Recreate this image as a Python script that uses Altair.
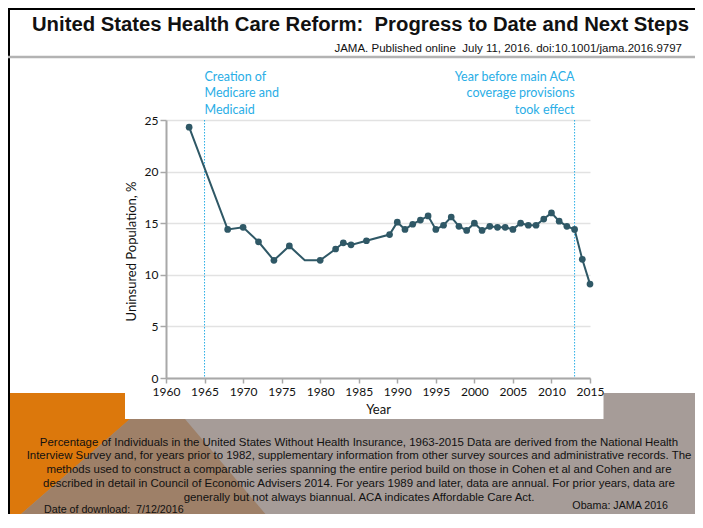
import altair as alt
import pandas as pd

# ---------------- data ----------------
years = [1963, 1968, 1970, 1972, 1974, 1976, 1978, 1980, 1982, 1983, 1984, 1986,
         1989, 1990, 1991, 1992, 1993, 1994, 1995, 1996, 1997, 1998, 1999, 2000,
         2001, 2002, 2003, 2004, 2005, 2006, 2007, 2008, 2009, 2010, 2011, 2012,
         2013, 2014, 2015]
uninsured = [24.3, 14.4, 14.6, 13.2, 11.4, 12.8, 11.4, 11.4, 12.5, 13.1, 12.9, 13.3,
             13.9, 15.1, 14.4, 14.9, 15.3, 15.7, 14.4, 14.8, 15.6, 14.7, 14.3, 15.0,
             14.3, 14.7, 14.6, 14.6, 14.4, 15.0, 14.8, 14.8, 15.4, 16.0, 15.2, 14.7,
             14.4, 11.5, 9.1]
no_marker_years = [1978]

event_years = [1965, 2013]
event_left_text = ["Creation of", "Medicare and", "Medicaid"]
event_right_text = ["Year before main ACA", "coverage provisions", "took effect"]

x_ticks = [1960, 1965, 1970, 1975, 1980, 1985, 1990, 1995, 2000, 2005, 2010, 2015]
y_ticks = [0, 5, 10, 15, 20, 25]

title_text = "United States Health Care Reform:\u00a0 Progress to Date and Next Steps"
subtitle_text = "JAMA. Published online\u00a0 July 11, 2016. doi:10.1001/jama.2016.9797"
caption_lines = [
    "Percentage of Individuals in the United States Without Health Insurance, 1963-2015 Data are derived from the National Health",
    "Interview Survey and, for years prior to 1982, supplementary information from other survey sources and administrative records. The",
    "methods used to construct a comparable series spanning the entire period build on those in Cohen et al and Cohen and are",
    "described in detail in Council of Economic Advisers 2014. For years 1989 and later, data are annual. For prior years, data are",
    "generally but not always biannual. ACA indicates Affordable Care Act.",
]
date_text = "Date of download:\u00a0 7/12/2016"
credit_text = "Obama: JAMA 2016"

# ---------------- styles ----------------
LINE = "#2f5866"
BLUE = "#2aaee6"
CHART_FONT = "Lato"
SLIDE_FONT = "Liberation Sans"

df = pd.DataFrame({"year": years, "value": uninsured,
                   "marker": [y not in no_marker_years for y in years]})
ev = pd.DataFrame({"year": event_years})
ev_left = pd.DataFrame({"year": [event_years[0]]})
ev_right = pd.DataFrame({"year": [event_years[1]]})
one = pd.DataFrame({"k": [0]})

xenc = alt.X("year:Q",
             scale=alt.Scale(domain=[1960, 2015], nice=False, zero=False),
             axis=alt.Axis(values=x_ticks, format="d", grid=False, title="Year",
                           labelFont=CHART_FONT, labelFontSize=12, labelColor="#111",
                           titleFont=CHART_FONT, titleFontSize=13, titleFontWeight="normal",
                           titleColor="#111", titleY=35, titleBaseline="alphabetic",
                           tickSize=5, tickColor="#a8a8a8", tickWidth=1.5,
                           domainColor="#a8a8a8", domainWidth=2, labelPadding=3,
                           labelFlush=False, labelOverlap=False, zindex=1))
yenc = alt.Y("value:Q",
             scale=alt.Scale(domain=[0, 25], nice=False),
             axis=alt.Axis(values=y_ticks, grid=True, gridColor="#e2e2e2", gridWidth=1.5,
                           title="Uninsured Population, %",
                           labelFont=CHART_FONT, labelFontSize=12, labelColor="#111",
                           titleFont=CHART_FONT, titleFontSize=13, titleFontWeight="normal",
                           titleColor="#111", titleX=-35, titleY=131, titleAngle=-90,
                           titleBaseline="middle", titleAlign="center",
                           tickSize=6, tickColor="#a8a8a8", tickWidth=1.5,
                           domainColor="#a8a8a8", domainWidth=2, labelPadding=2,
                           labelFlush=False, labelOverlap=False))


def rect(x1, x2, y1, y2, color):
    return alt.Chart(one).mark_rect(color=color, opacity=1).encode(
        x=alt.value(x1), x2=alt.value(x2), y=alt.value(y1), y2=alt.value(y2))


def poly(path, color):
    return alt.Chart(one).mark_point(shape=path, size=40000, filled=True, color=color,
                                     opacity=1, strokeWidth=0).encode(
        x=alt.value(0), y=alt.value(0))


def rule(x1, x2, y1, y2, color, w):
    return alt.Chart(one).mark_rule(color=color, strokeWidth=w).encode(
        x=alt.value(x1), x2=alt.value(x2), y=alt.value(y1), y2=alt.value(y2))


def label(text, x, y, size, align, weight="normal", font=SLIDE_FONT, color="#111", lh=None):
    kw = dict(text=text, align=align, baseline="alphabetic", fontSize=size,
              fontWeight=weight, font=font, color=color)
    if lh is not None:
        kw["lineHeight"] = lh
    return alt.Chart(one).mark_text(**kw).encode(x=alt.value(x), y=alt.value(y))


# slide decoration (pixel positions relative to the plot area)
bg_gray = rect(-170, 540, 273, 400, "#a69c98")
bg_orange = poly("M-1.7,2.73L-0.06,2.73L-1.7,4.16Z", "#dc780c")
bg_brown = poly("M-0.064,2.73L-0.03,2.73L1.18,4.16L-1.7,4.16Z", "#9e8068")
bg_white = rect(-41, 437.5, 273, 299, "#ffffff")
border_left = rule(-157, -157, -112, 400, "#000000", 2)
border_top = rule(-158, 540, -111, -111, "#000000", 2)
sep_line = rule(-158, 540, -63, -63, "#b3b3b3", 2.5)

title = label(title_text, 194.5, -89, 20.3, "center", weight="bold")
subtitle = label(subtitle_text, 516, -68, 11.5, "right")
caption = label(caption_lines, 193, 325.5, 11.45, "center", lh=13.9)
date = label(date_text, -122, 393, 10.7, "left")
credit = label(credit_text, 502, 389, 10.7, "right")

# chart content
events = alt.Chart(ev).mark_rule(color=BLUE, strokeDash=[1.5, 1.5], strokeWidth=1).encode(x=xenc)
ann_left = alt.Chart(ev_left).mark_text(text=event_left_text, align="left", baseline="alphabetic",
                                        font=CHART_FONT, fontSize=12.5, color=BLUE,
                                        lineHeight=16.7).encode(x=xenc, y=alt.value(-39.3))
ann_right = alt.Chart(ev_right).mark_text(text=event_right_text, align="right", baseline="alphabetic",
                                          font=CHART_FONT, fontSize=12.5, color=BLUE,
                                          lineHeight=16.7).encode(x=xenc, y=alt.value(-39.3))

line = alt.Chart(df).mark_line(color=LINE, strokeWidth=2).encode(x=xenc, y=yenc)
points = alt.Chart(df).transform_filter(alt.datum.marker).mark_circle(
    color=LINE, size=45, opacity=1).encode(x=xenc, y=yenc)

chart = alt.layer(
    bg_gray, bg_orange, bg_brown, bg_white, border_left, border_top, sep_line,
    title, subtitle, caption, date, credit,
    events, ann_left, ann_right, line, points,
).properties(
    width=424, height=258,
    padding={"left": 158, "top": 112, "right": 105, "bottom": 136},
    autosize=alt.AutoSizeParams(type="none"),
    background="white",
).configure_view(stroke=None)

chart.save("out.html", embed_options={"renderer": "svg", "actions": False})
